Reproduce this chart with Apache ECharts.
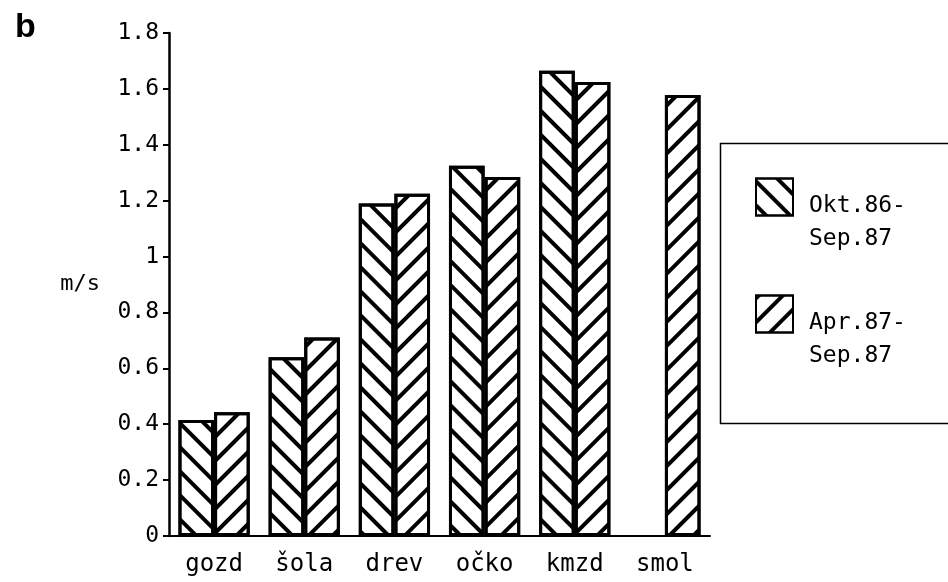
<!DOCTYPE html>
<html>
<head>
<meta charset="utf-8">
<script src="https://cdn.jsdelivr.net/npm/echarts@6/dist/echarts.min.js"></script>
<style>html,body{margin:0;padding:0;background:#fff}#c{width:948px;height:582px}</style>
</head>
<body>
<div id="c"></div>
<script>
const categories = ['gozd', 'šola', 'drev', 'očko', 'kmzd', 'smol'];
const seriesNames = ['Okt.86-\nSep.87', 'Apr.87-\nSep.87'];
const oktSep = [0.415, 0.64, 1.19, 1.325, 1.665, null];
const aprSep = [0.443, 0.71, 1.225, 1.285, 1.625, 1.578];
const yTicks = { min: 0, max: 1.8, interval: 0.2 };

const FONT = '"DejaVu Sans Mono", monospace';
const chart = echarts.init(document.getElementById('c'), null, { renderer: 'canvas' });

function hatch(rot) {
  return { symbol: 'rect', symbolSize: 1, dashArrayX: [1, 0], dashArrayY: [3.5, 12.5], rotation: rot, color: '#000' };
}

chart.setOption({
  backgroundColor: '#fff',
  animation: false,
  title: { text: 'b', left: 10, top: 6, textStyle: { fontFamily: 'Liberation Sans, Arial, sans-serif', fontWeight: 'bold', fontSize: 34, color: '#000' } },
  grid: { left: 169, right: 238, top: 33, bottom: 46 },
  graphic: [{
    type: 'rect', left: 718, top: 141, silent: true,
    shape: { width: 240, height: 280 },
    style: { fill: 'none', stroke: '#000', lineWidth: 1.5 }
  }],
  legend: {
    orient: 'vertical', left: 755, top: 159,
    padding: 0,
    itemWidth: 37, itemHeight: 37, itemGap: 25,
    icon: 'rect',
    formatter: n => '{s| }\n' + n.split('\n').map(p => '{t|' + p + '}').join('\n'),
    textStyle: {
      fontFamily: FONT, fontSize: 23, color: '#000', padding: [0, 0, 0, 11],
      rich: {
        s: { fontFamily: FONT, fontSize: 10, lineHeight: 52 },
        t: { fontFamily: FONT, fontSize: 23, lineHeight: 33, color: '#000' }
      }
    },
    data: seriesNames
  },
  xAxis: {
    type: 'category', data: categories,
    axisLine: { lineStyle: { color: '#000', width: 2 } },
    axisTick: { length: 6, lineStyle: { color: '#000', width: 2 } },
    axisLabel: { color: '#000', fontFamily: FONT, fontSize: 24, margin: 17 }
  },
  yAxis: {
    type: 'value', min: yTicks.min, max: yTicks.max, interval: yTicks.interval,
    name: 'm/s', nameLocation: 'middle', nameRotate: 0, nameGap: 69,
    nameTextStyle: { color: '#000', fontFamily: FONT, fontSize: 22 },
    axisLine: { show: true, lineStyle: { color: '#000', width: 2.5 } },
    axisTick: { show: true, length: 6, lineStyle: { color: '#000', width: 2 } },
    splitLine: { show: false },
    axisLabel: { color: '#000', fontFamily: FONT, fontSize: 23, margin: 10 }
  },
  series: [
    { name: seriesNames[0], type: 'bar', data: oktSep, barGap: '0%', barCategoryGap: '21%',
      itemStyle: { color: '#fff', borderColor: '#000', borderWidth: 3, decal: hatch(Math.PI / 4) } },
    { name: seriesNames[1], type: 'bar', data: aprSep, barGap: '0%', barCategoryGap: '21%',
      itemStyle: { color: '#fff', borderColor: '#000', borderWidth: 3, decal: hatch(-Math.PI / 4) } }
  ]
});
</script>
</body>
</html>
